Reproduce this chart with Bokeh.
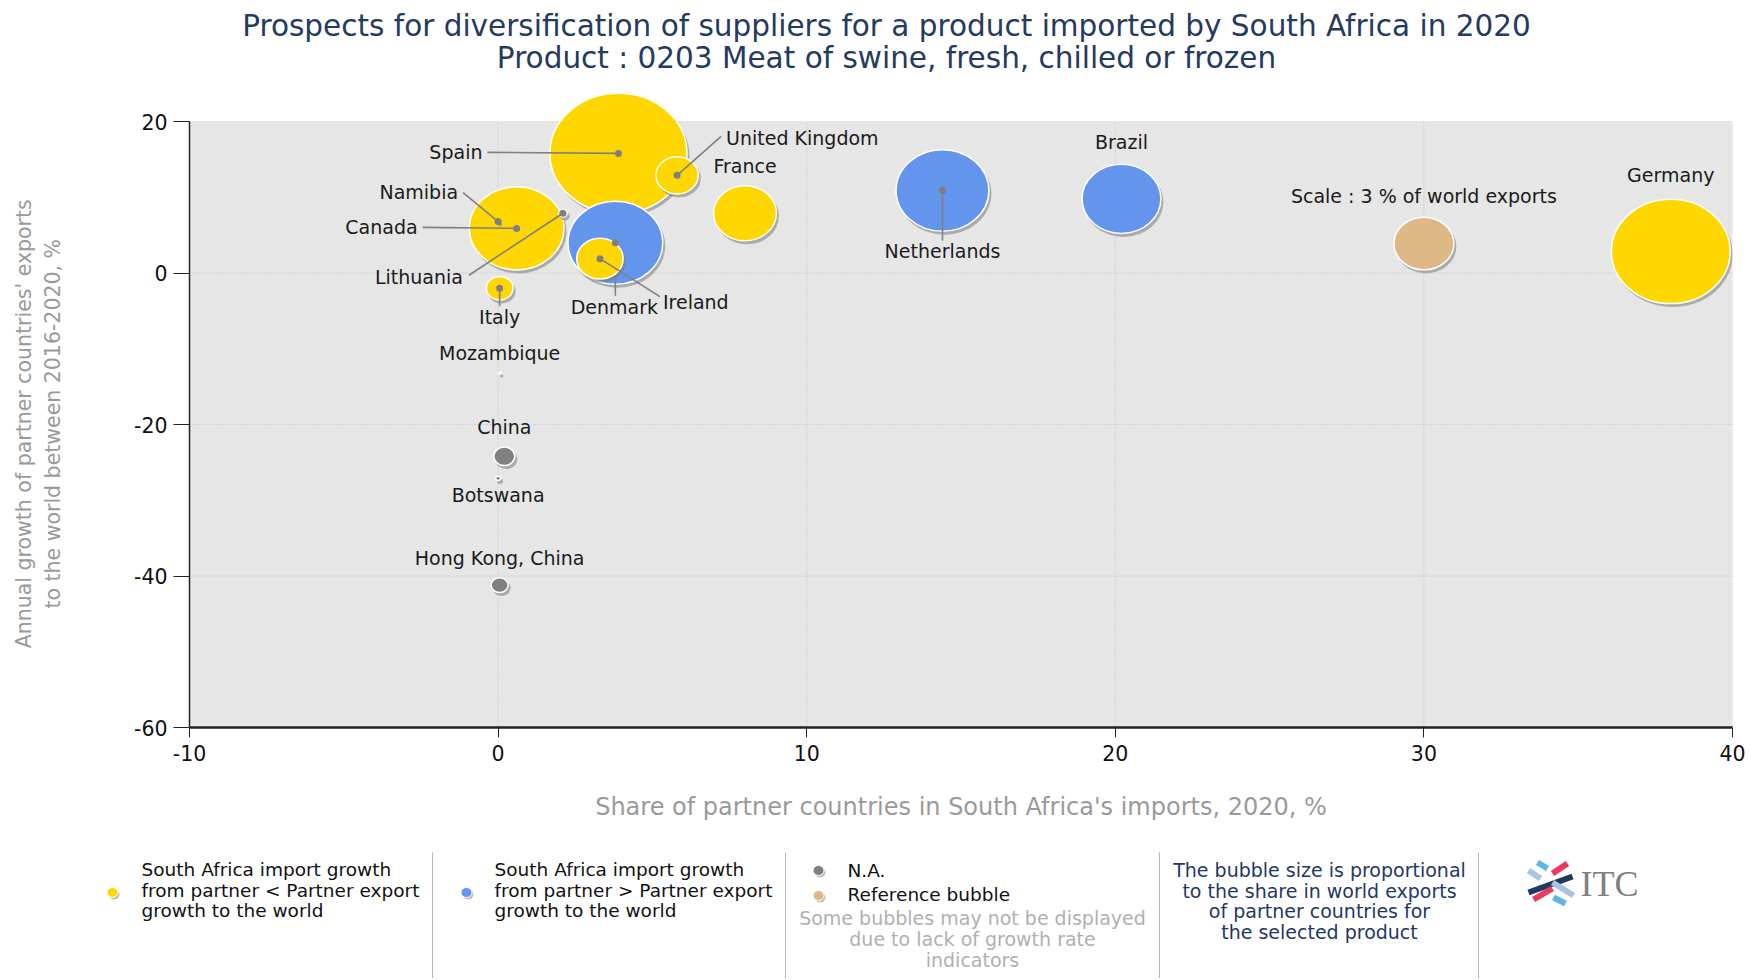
import math
from bokeh.plotting import figure
from bokeh.models import Range1d, FixedTicker, ColumnDataSource
from bokeh.embed import file_html
from bokeh.resources import INLINE
from bokeh.core.properties import value

# ---------------- data ----------------
title_line1 = "Prospects for diversification of suppliers for a product imported by South Africa in 2020"
title_line2 = "Product : 0203 Meat of swine, fresh, chilled or frozen"
x_axis_label = "Share of partner countries in South Africa's imports, 2020, %"
y_axis_lines = ["Annual growth of partner countries' exports", "to the world between 2016-2020, %"]
x_ticks = [-10, 0, 10, 20, 30, 40]
y_ticks = [-60, -40, -20, 0, 20]

countries = ["Spain", "Germany", "Canada", "Denmark", "Netherlands", "Brazil", "France",
             "Ireland", "United Kingdom", "Italy", "China", "Hong Kong, China", "Lithuania",
             "Namibia", "Botswana", "Mozambique"]
import_share = [3.9, 38.0, 0.6, 3.8, 14.4, 20.2, 8.0, 3.3, 5.8, 0.05, 0.2, 0.05, 2.1, 0.0, 0.0, 0.05]
export_growth = [15.8, 2.85, 5.9, 4.0, 10.9, 9.8, 7.9, 1.9, 12.9, -2.0, -24.2, -41.2, 7.9, 6.8, -27.1, -13.2]
world_export_share = [15.7, 11.8, 7.5, 7.5, 7.2, 5.2, 3.3, 1.8, 1.5, 0.6, 0.37, 0.24, 0.06, 0.01, 0.02, 0.005]
status = ["lt", "lt", "lt", "gt", "gt", "gt", "lt", "lt", "lt", "lt", "na", "na", "lt", "lt", "na", "na"]

reference_label = "Scale : 3 % of world exports"
reference_x = 30
reference_y = 3.9
reference_world_share = 3

legend_lt = ["South Africa import growth", "from partner < Partner export", "growth to the world"]
legend_gt = ["South Africa import growth", "from partner > Partner export", "growth to the world"]
legend_na = "N.A."
legend_ref = "Reference bubble"
legend_note = ["Some bubbles may not be displayed", "due to lack of growth rate", "indicators"]
legend_size = ["The bubble size is proportional", "to the share in world exports",
               "of partner countries for", "the selected product"]
logo_text = "ITC"

# ---------------- style / layout ----------------
COLORS = {"lt": "#FFD700", "gt": "#6495ED", "na": "#808080", "ref": "#DEB887"}
SHADOW = "#7a7a7a"
FONT = "DejaVu Sans"
W = 1745
X0, X1, Y0, Y1 = -10, 40, -60, 20
Y_TOP = 24.5          # room above the plot area so big bubbles are not cut
FW = 1543
sx = FW / (X1 - X0)
sy = 606 / (Y1 - Y0)
FH = int(round((Y_TOP - Y0) * sy))
K = 34.6          # bubble width (px) per sqrt(% of world exports)
ASPECT = 1.14     # bubbles are slightly wider than tall

TITLE_H = 78
FRAME_TOP = 727 - FH
MAIN_H = 848 - TITLE_H
LEG_TOP, LEG_BOT = 848, 978
# the axis title is centred on the frame, which reaches above y=20; pad its top end
Y_LABEL_PAD = "\u00a0" * 5

# label offsets in px from bubble centre: (dx, dy(down), align, leader end or None)
label_layout = {
    "Spain": (-136, -1, "right", (-131, -1)),
    "United Kingdom": (49, -37, "left", (44, -39)),
    "France": (0, -47, "center", None),
    "Namibia": (-40, -30, "right", (-35, -29)),
    "Canada": (-99, -1, "right", (-94, -1)),
    "Lithuania": (-100, 64, "right", (-94, 62)),
    "Italy": (0, 29, "center", (0, 18)),
    "Denmark": (-1, 64, "center", (0, 53)),
    "Ireland": (63, 43, "left", (60, 38)),
    "Netherlands": (0, 61, "center", (0, 50)),
    "Brazil": (0, -57, "center", None),
    "Germany": (0, -76, "center", None),
    "China": (0, -29, "center", None),
    "Hong Kong, China": (0, -27, "center", None),
    "Botswana": (0, 17, "center", None),
    "Mozambique": (0, -20, "center", None),
}
REF_LABEL_DY = -48


def to_data(x, y, dx, dy):
    return x + dx / sx, y - dy / sy


def blank_fig(h, y_top, y_bottom):
    f = figure(width=W, height=h, x_range=Range1d(0, W), y_range=Range1d(y_bottom, y_top),
               x_axis_type=None, y_axis_type=None, output_backend="svg",
               toolbar_location=None, min_border=0)
    f.outline_line_color = None
    f.background_fill_color = "white"
    return f


# ---------------- title figure ----------------
tfig = blank_fig(TITLE_H, 0, TITLE_H)
tfig.text(x=[886, 886], y=[25, 57], text=[title_line1, title_line2],
          text_font=value(FONT), text_font_size=value("29.5px"), text_color="#243a5e",
          text_align="center", text_baseline="middle")

# ---------------- main figure ----------------
p = figure(width=W, height=MAIN_H, x_range=Range1d(X0, X1), y_range=Range1d(Y0, Y_TOP),
           output_backend="svg", toolbar_location=None,
           min_border_left=189, min_border_right=W - 189 - FW,
           min_border_top=FRAME_TOP - TITLE_H, min_border_bottom=MAIN_H - (727 - TITLE_H))
p.background_fill_color = "white"
p.border_fill_color = "white"
p.outline_line_color = None
p.grid.visible = False

# plot area background and dotted grid (limited to the axis bounds)
p.quad(left=[X0], right=[X1], bottom=[Y0], top=[Y1], fill_color="#E6E6E6", line_color=None,
       level="underlay")
gx = [t for t in x_ticks if t != X0]
gy = [t for t in y_ticks if t != Y0]
p.segment(x0=gx, y0=[Y0] * len(gx), x1=gx, y1=[Y1] * len(gx), line_color="#c2c2c2",
          line_dash="1 2", line_width=1, level="underlay")
p.segment(x0=[X0] * len(gy), y0=gy, x1=[X1] * len(gy), y1=gy, line_color="#c2c2c2",
          line_dash="1 2", line_width=1, level="underlay")

for ax, ticks in ((p.xaxis, x_ticks), (p.yaxis, y_ticks)):
    ax.ticker = FixedTicker(ticks=ticks)
    ax.major_label_overrides = {t: str(t) for t in ticks}
    ax.minor_tick_line_color = None
    ax.major_tick_in = 0
    ax.axis_line_color = "#222222"
    ax.major_tick_line_color = "#222222"
    ax.major_label_text_font = FONT
    ax.major_label_text_font_size = "20.5px"
    ax.major_label_text_color = "#111111"
    ax.axis_label_text_font = FONT
    ax.axis_label_text_font_style = "normal"
    ax.axis_label_text_color = "#9a9a9a"

p.yaxis.bounds = (Y0, Y1)
p.xaxis.axis_label = x_axis_label
p.xaxis.axis_label_text_font_size = "24px"
p.xaxis.axis_label_standoff = 29
p.xaxis.major_tick_out = 10
p.xaxis.major_label_standoff = 7
p.xaxis.axis_line_width = 2.5
p.yaxis.axis_label = "\n".join(line + Y_LABEL_PAD for line in y_axis_lines)
p.yaxis.axis_label_text_font_size = "20.5px"
p.yaxis.axis_label_standoff = 66
p.yaxis.major_tick_out = 16
p.yaxis.major_label_standoff = 6
p.yaxis.axis_line_width = 1.5

# all bubbles incl. reference
bx = import_share + [reference_x]
by = export_growth + [reference_y]
bw = world_export_share + [reference_world_share]
bs = status + ["ref"]
order = sorted(range(len(bx)), key=lambda i: -bw[i])
big = [i for i in order if bw[i] >= 5]
small = [i for i in order if bw[i] < 5]


def bubble_source(indices):
    d = dict(x=[], y=[], w=[], h=[], fc=[], fa=[], la=[])
    for i in indices:
        w = K * math.sqrt(bw[i])
        h = w / ASPECT
        shx, shy = to_data(bx[i], by[i], 2, 3)
        d["x"] += [shx, bx[i]]
        d["y"] += [shy, by[i]]
        d["w"] += [w + 1, w]
        d["h"] += [h + 1, h]
        d["fc"] += [SHADOW, COLORS[bs[i]]]
        d["fa"] += [0.55, 1.0]
        d["la"] += [0.0, 1.0]
    return ColumnDataSource(d)


def draw_bubbles(indices):
    p.ellipse(x="x", y="y", width="w", height="h", width_units="screen", height_units="screen",
              fill_color="fc", fill_alpha="fa", line_color="white", line_alpha="la",
              line_width=1.5, source=bubble_source(indices))


def draw_leaders(indices):
    d = dict(x0=[], y0=[], x1=[], y1=[])
    for i in indices:
        if i >= len(countries):
            continue
        lay = label_layout[countries[i]]
        if lay[3] is None:
            continue
        ex, ey = to_data(bx[i], by[i], lay[3][0], lay[3][1])
        d["x0"].append(bx[i]); d["y0"].append(by[i]); d["x1"].append(ex); d["y1"].append(ey)
    if d["x0"]:
        p.segment(x0="x0", y0="y0", x1="x1", y1="y1", line_color="#808080", line_width=1.6,
                  source=ColumnDataSource(d))


draw_bubbles(big)
draw_leaders(big)
draw_bubbles(small)
draw_leaders(small)

dots = [i for i in range(len(countries)) if label_layout[countries[i]][3] is not None]
p.scatter(x=[bx[i] for i in dots], y=[by[i] for i in dots], size=7, marker="circle",
          fill_color="#7f7f7f", line_color=None)

for align in ("left", "right", "center"):
    lx, ly, lt = [], [], []
    for i, c in enumerate(countries):
        dx, dy, a, _ = label_layout[c]
        if a != align:
            continue
        tx, ty = to_data(bx[i], by[i], dx, dy)
        lx.append(tx); ly.append(ty); lt.append(c)
    if align == "center":
        tx, ty = to_data(reference_x, reference_y, 0, REF_LABEL_DY)
        lx.append(tx); ly.append(ty); lt.append(reference_label)
    p.text(x=lx, y=ly, text=lt, text_font=value(FONT), text_font_size=value("19px"),
           text_color="#1a1a1a", text_align=align, text_baseline="middle")

# ---------------- legend figure ----------------
lfig = blank_fig(LEG_BOT - LEG_TOP, LEG_TOP, LEG_BOT)
sep_x = [432, 785, 1159, 1478]
lfig.segment(x0=sep_x, y0=[852] * 4, x1=sep_x, y1=[LEG_BOT] * 4, line_color="#b5b5b5", line_width=1)

leg_dot_x = [112, 466, 818, 818]
leg_dot_y = [892, 892, 870, 895]
leg_dot_c = [COLORS["lt"], COLORS["gt"], COLORS["na"], COLORS["ref"]]
lfig.ellipse(x=[v + 1.5 for v in leg_dot_x], y=[v + 2 for v in leg_dot_y], width=11, height=10,
             fill_color=SHADOW, fill_alpha=0.5, line_color=None)
lfig.ellipse(x=leg_dot_x, y=leg_dot_y, width=11, height=10, fill_color=leg_dot_c,
             line_color="white", line_width=1)

LFS = value("18.5px")
lfig.text(x=[141] * 3, y=[869, 890, 910], text=legend_lt, text_font=value(FONT), text_font_size=LFS,
          text_color="#111111", text_align="left", text_baseline="middle")
lfig.text(x=[494] * 3, y=[869, 890, 910], text=legend_gt, text_font=value(FONT), text_font_size=LFS,
          text_color="#111111", text_align="left", text_baseline="middle")
lfig.text(x=[847, 847], y=[870, 894], text=[legend_na, legend_ref], text_font=value(FONT),
          text_font_size=LFS, text_color="#111111", text_align="left", text_baseline="middle")
lfig.text(x=[972] * 3, y=[917, 938, 959], text=legend_note, text_font=value(FONT),
          text_font_size=value("19px"), text_color="#b0b0b0", text_align="center",
          text_baseline="middle")
lfig.text(x=[1319] * 4, y=[869, 890, 910, 931], text=legend_size, text_font=value(FONT),
          text_font_size=value("19px"), text_color="#1f3864", text_align="center",
          text_baseline="middle")

logo_x0 = [1537, 1528, 1567, 1572, 1552, 1552, 1553]
logo_y0 = [862, 870, 863, 876, 882, 888, 897]
logo_x1 = [1547, 1540, 1552, 1528, 1573, 1533, 1565]
logo_y1 = [868, 878, 873, 892, 895, 899, 903]
logo_c = ["#5bb5e5", "#a9c4dc", "#e8395e", "#1f3a5f", "#a9c4dc", "#e8395e", "#5bb5e5"]
lfig.segment(x0=logo_x0, y0=logo_y0, x1=logo_x1, y1=logo_y1, line_color=logo_c,
             line_width=6, line_cap="butt")
lfig.text(x=[1580], y=[883], text=[logo_text], text_font=value("Liberation Serif"),
          text_font_size=value("36px"), text_color="#808080", text_align="left",
          text_baseline="middle")

open("out.html", "w").write(file_html([tfig, p, lfig], INLINE))
